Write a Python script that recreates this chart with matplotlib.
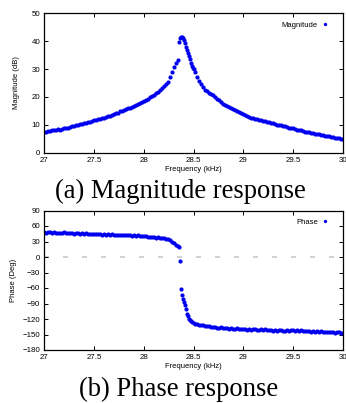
import matplotlib.pyplot as plt

# Magnitude response (kHz, dB)
mag_freq = [27.00, 27.02, 27.04, 27.06, 27.08, 27.10, 27.12, 27.14, 27.16, 27.18,
            27.20, 27.22, 27.24, 27.26, 27.28, 27.30, 27.32, 27.34, 27.36, 27.38,
            27.40, 27.42, 27.44, 27.46, 27.48, 27.50, 27.52, 27.54, 27.56, 27.58,
            27.60, 27.62, 27.64, 27.66, 27.68, 27.70, 27.72, 27.74, 27.76, 27.78,
            27.80, 27.82, 27.84, 27.86, 27.88, 27.90, 27.92, 27.94, 27.96, 27.98,
            28.00, 28.02, 28.04, 28.06, 28.08, 28.10, 28.12, 28.14, 28.16, 28.18,
            28.20, 28.22, 28.24, 28.26, 28.28, 28.30, 28.32, 28.34, 28.35, 28.36,
            28.37, 28.38, 28.39, 28.40, 28.41, 28.42, 28.43, 28.44, 28.45, 28.46,
            28.47, 28.48, 28.49, 28.50, 28.52, 28.54, 28.56, 28.58, 28.60, 28.62,
            28.64, 28.66, 28.68, 28.70, 28.72, 28.74, 28.76, 28.78, 28.80, 28.82,
            28.84, 28.86, 28.88, 28.90, 28.92, 28.94, 28.96, 28.98, 29.00, 29.02,
            29.04, 29.06, 29.08, 29.10, 29.12, 29.14, 29.16, 29.18, 29.20, 29.22,
            29.24, 29.26, 29.28, 29.30, 29.32, 29.34, 29.36, 29.38, 29.40, 29.42,
            29.44, 29.46, 29.48, 29.50, 29.52, 29.54, 29.56, 29.58, 29.60, 29.62,
            29.64, 29.66, 29.68, 29.70, 29.72, 29.74, 29.76, 29.78, 29.80, 29.82,
            29.84, 29.86, 29.88, 29.90, 29.92, 29.94, 29.96, 29.98, 30.00]
mag_db = [7.5, 7.6, 7.8, 7.7, 8.0, 8.2, 8.1, 8.4, 8.3, 8.6,
          8.8, 8.7, 9.0, 9.2, 9.4, 9.7, 9.8, 10.0, 10.3, 10.4,
          10.6, 10.7, 11.0, 11.1, 11.3, 11.6, 11.7, 12.0, 12.2, 12.4,
          12.6, 12.7, 13.0, 13.2, 13.5, 13.8, 14.1, 14.4, 14.8, 15.1,
          15.4, 15.6, 15.9, 16.2, 16.5, 16.8, 17.2, 17.5, 17.8, 18.2,
          18.4, 18.8, 19.3, 19.8, 20.3, 20.8, 21.3, 21.9, 22.5, 23.1,
          23.8, 24.5, 25.4, 27.0, 28.8, 30.6, 32.1, 33.4, 39.8, 41.0,
          41.5, 41.4, 41.3, 40.6, 39.2, 38.0, 36.8, 35.6, 34.6, 33.6,
          32.3, 31.0, 30.4, 30.0, 28.8, 27.2, 25.8, 24.8, 23.6, 22.6,
          22.0, 21.5, 21.1, 20.6, 20.0, 19.4, 18.9, 18.3, 17.6, 17.2,
          16.8, 16.4, 16.0, 15.5, 15.2, 14.9, 14.5, 14.2, 13.8, 13.4,
          13.1, 12.9, 12.6, 12.4, 12.2, 12.0, 11.8, 11.6, 11.4, 11.2,
          11.0, 10.9, 10.7, 10.5, 10.3, 10.0, 9.9, 9.8, 9.6, 9.4,
          9.2, 9.0, 8.9, 8.7, 8.6, 8.3, 8.2, 8.0, 7.8, 7.6,
          7.5, 7.3, 7.2, 7.0, 6.8, 6.7, 6.6, 6.4, 6.3, 6.1,
          6.0, 5.9, 5.7, 5.6, 5.4, 5.3, 5.1, 5.0, 4.8]

# Phase response (kHz, deg)
ph_freq = [27.00, 27.02, 27.04, 27.06, 27.08, 27.10, 27.12, 27.14, 27.16, 27.18,
           27.20, 27.22, 27.24, 27.26, 27.28, 27.30, 27.32, 27.34, 27.36, 27.38,
           27.40, 27.42, 27.44, 27.46, 27.48, 27.50, 27.52, 27.54, 27.56, 27.58,
           27.60, 27.62, 27.64, 27.66, 27.68, 27.70, 27.72, 27.74, 27.76, 27.78,
           27.80, 27.82, 27.84, 27.86, 27.88, 27.90, 27.92, 27.94, 27.96, 27.98,
           28.00, 28.02, 28.04, 28.06, 28.08, 28.10, 28.12, 28.14, 28.16, 28.18,
           28.20, 28.22, 28.24, 28.26, 28.28, 28.30, 28.32, 28.34, 28.35, 28.36,
           28.37, 28.38, 28.39, 28.40, 28.41, 28.42, 28.43, 28.44, 28.45, 28.46,
           28.47, 28.48, 28.50, 28.52, 28.54, 28.56, 28.58, 28.60, 28.62, 28.64,
           28.66, 28.68, 28.70, 28.72, 28.74, 28.76, 28.78, 28.80, 28.82, 28.84,
           28.86, 28.88, 28.90, 28.92, 28.94, 28.96, 28.98, 29.00, 29.02, 29.04,
           29.06, 29.08, 29.10, 29.12, 29.14, 29.16, 29.18, 29.20, 29.22, 29.24,
           29.26, 29.28, 29.30, 29.32, 29.34, 29.36, 29.38, 29.40, 29.42, 29.44,
           29.46, 29.48, 29.50, 29.52, 29.54, 29.56, 29.58, 29.60, 29.62, 29.64,
           29.66, 29.68, 29.70, 29.72, 29.74, 29.76, 29.78, 29.80, 29.82, 29.84,
           29.86, 29.88, 29.90, 29.92, 29.94, 29.96, 29.98, 30.00]
ph_deg = [48, 47, 48.5, 47.5, 46.5, 47.5, 46.5, 47, 45.5, 46.5,
          47.5, 46, 46.5, 45.5, 46, 45, 46, 47, 45, 45.5,
          44.5, 45.5, 44.5, 45, 44, 44.5, 45, 44, 44.5, 43.5,
          44.5, 43.5, 44, 43, 44, 43.5, 42.5, 43.5, 42.5, 43,
          42.5, 43.5, 42, 42.5, 41.5, 42, 41, 42, 40.5, 41,
          40, 40.5, 39, 39.5, 38.5, 38.5, 37.5, 38, 37, 36.5,
          36.5, 35.5, 34, 32, 29.5, 26.5, 24, 21.5, 19, -7.8,
          -61.3, -74, -80.8, -87, -93, -100, -110, -115, -119.5, -122,
          -124.5, -126, -127.5, -129, -130, -131, -132, -132.5, -133.5, -134,
          -134.5, -135.5, -136, -135.5, -136.5, -137, -136, -137.5, -138, -137,
          -138.5, -137.5, -138.5, -139, -138, -139.5, -138.5, -140, -139, -140.5,
          -139.5, -141, -140, -139, -140.5, -141.5, -140, -141, -140, -141.5,
          -142, -141, -142.5, -141.5, -143, -142, -141.5, -142.5, -143, -141.5,
          -142.5, -141, -142, -143, -142, -143.5, -142, -143, -144, -142.5,
          -143.5, -145, -143, -144.5, -143.5, -145, -144, -145, -144.5, -146,
          -145, -146, -145.5, -146.5, -145.5, -146, -147, -147.5]

x_ticks = [27, 27.5, 28, 28.5, 29, 29.5, 30]
x_labels = ['27', '27.5', '28', '28.5', '29', '29.5', '30']
mag_ticks = [0, 10, 20, 30, 40, 50]
ph_ticks = [-180, -150, -120, -90, -60, -30, 0, 30, 60, 90]

plt.rcParams['font.family'] = ['Liberation Sans', 'DejaVu Sans']

W, H = 346, 403
fig = plt.figure(figsize=(W / 100, H / 100), dpi=100)

ax1 = fig.add_axes([44.3 / W, 1 - 152.7 / H, 298.4 / W, 139.4 / H])
ax2 = fig.add_axes([44.3 / W, 1 - 350.0 / H, 298.4 / W, 139.5 / H])

blue = '#0000ee'
ax1.plot(mag_freq, mag_db, linestyle='none', marker='o', ms=3.0, mew=0,
         color=blue, label='Magnitude')
ax2.axhline(0, color='#c8c8c8', lw=1.2, dashes=(3, 8.4), zorder=0)
ax2.plot(ph_freq, ph_deg, linestyle='none', marker='o', ms=3.0, mew=0,
         color=blue, label='Phase')

for ax in (ax1, ax2):
    ax.set_xlim(27, 30)
    ax.set_xticks(x_ticks)
    ax.set_xticklabels(x_labels)
    ax.tick_params(direction='in', length=3, width=0.7, top=True, right=True,
                   labelsize=5.7, pad=3)
    for s in ax.spines.values():
        s.set_linewidth(0.9)
    ax.set_xlabel('Frequency (kHz)', fontsize=5.5, labelpad=1.5)
    ax.legend(loc='upper right', bbox_to_anchor=(0.975, 0.99), frameon=False,
              markerfirst=False, fontsize=5.5, handlelength=0.8,
              handletextpad=0.6, markerscale=0.8)

ax1.set_ylim(0, 50)
ax1.set_yticks(mag_ticks)
ax1.set_ylabel('Magnitude (dB)', fontsize=5.5, labelpad=8)

ax2.set_ylim(-180, 90)
ax2.set_yticks(ph_ticks)
ax2.set_ylabel('Phase (Deg)', fontsize=5.5, labelpad=4)

fig.text(180 / W, 1 - 198 / H, '(a) Magnitude response', ha='center',
         va='baseline', fontsize=19.2, family='Liberation Serif')
fig.text(179 / W, 1 - 396 / H, '(b) Phase response', ha='center',
         va='baseline', fontsize=19.2, family='Liberation Serif')

fig.savefig('out.png', dpi=100)
